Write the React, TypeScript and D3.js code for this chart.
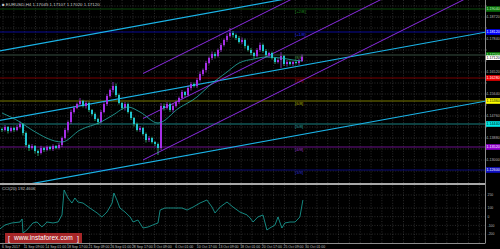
import React from "react";
import * as d3 from "d3";

// ---- data ----
const firstOpen = 1.1424;
const closes = [
  1.1420, 1.1432, 1.1416, 1.1428, 1.1420, 1.1432, 1.1444, 1.1408, 1.1360, 1.1348,
  1.1356, 1.1336, 1.1328, 1.1348, 1.1340, 1.1352, 1.1344, 1.1356, 1.1348, 1.1360,
  1.1388, 1.1420, 1.1452, 1.1492, 1.1508, 1.1524, 1.1536, 1.1516, 1.1528, 1.1500,
  1.1484, 1.1464, 1.1452, 1.1492, 1.1524, 1.1556, 1.1580, 1.1596, 1.1560, 1.1528,
  1.1508, 1.1524, 1.1492, 1.1468, 1.1444, 1.1420, 1.1428, 1.1404, 1.1380, 1.1388,
  1.1372, 1.1364, 1.1348, 1.1516, 1.1508, 1.1524, 1.1500, 1.1516, 1.1532, 1.1548,
  1.1572, 1.1560, 1.1588, 1.1604, 1.1596, 1.1620, 1.1644, 1.1660, 1.1688, 1.1708,
  1.1724, 1.1716, 1.1740, 1.1760, 1.1780, 1.1796, 1.1808, 1.1800, 1.1788, 1.1772,
  1.1780, 1.1756, 1.1740, 1.1728, 1.1716, 1.1740, 1.1760, 1.1736, 1.1720, 1.1728,
  1.1708, 1.1692, 1.1700, 1.1716, 1.1684, 1.1692, 1.1684, 1.1692, 1.1688, 1.1696,
  1.1712,
];
// wick lengths in pips
const wickUp = [
  6, 8, 4, 6, 5, 8, 10, 4, 6, 5, 8, 4, 6, 9, 4, 6, 5, 7, 4, 8,
  6, 8, 6, 10, 8, 6, 12, 5, 8, 6, 4, 6, 5, 8, 10, 8, 6, 16, 10, 6,
  4, 8, 6, 5, 4, 6, 8, 4, 6, 8, 5, 4, 6, 12, 10, 8, 6, 10, 5, 6,
  8, 4, 10, 8, 6, 8, 10, 6, 8, 6, 10, 8, 6, 8, 6, 10, 20, 8, 6, 8,
  10, 6, 5, 8, 4, 8, 10, 6, 8, 5, 6, 4, 8, 16, 4, 8, 6, 5, 6, 8, 10,
];
const wickDn = [
  8, 6, 10, 6, 8, 5, 6, 10, 8, 12, 6, 10, 12, 6, 8, 5, 6, 8, 5, 6,
  8, 6, 10, 8, 6, 5, 8, 6, 10, 8, 6, 8, 10, 6, 5, 8, 6, 10, 8, 6,
  8, 10, 6, 8, 10, 6, 8, 6, 10, 8, 6, 8, 28, 8, 10, 6, 8, 10, 6, 8,
  6, 8, 6, 10, 6, 8, 6, 8, 10, 6, 8, 10, 6, 8, 6, 8, 6, 10, 8, 6,
  8, 10, 6, 8, 10, 6, 8, 6, 8, 10, 6, 8, 6, 32, 8, 10, 6, 8, 6, 8, 4,
];
const maIdx = [0, 6, 10, 20, 26, 33, 37, 42, 46, 52, 59, 65, 69, 75, 79, 84, 88, 93, 97, 100];
const maVal = [1.1488, 1.1452, 1.1420, 1.1372, 1.1420, 1.1452, 1.1480, 1.1512, 1.1492, 1.1448,
  1.1508, 1.1552, 1.1596, 1.1652, 1.1688, 1.1704, 1.1712, 1.1708, 1.1700, 1.1696];

const murrayLevels = [1.1904, 1.1812, 1.1720, 1.1628, 1.1536, 1.1444, 1.1352, 1.1260];
const murrayNames = ["[+2/8]", "[+1/8]", "[8/8]", "[7/8]", "[6/8]", "[5/8]", "[4/8]", "[3/8]"];
const priceTicks = [1.1916, 1.1872, 1.1828, 1.1784, 1.1740, 1.1696, 1.1652, 1.1608, 1.1564,
  1.1520, 1.1476, 1.1432, 1.1388, 1.1344, 1.1300, 1.1256];
const lastPrice = 1.1712;

// trend channels: anchor bar index / price pairs
const cyanStart = [0, 0, 0];
const cyanP1 = [1.1738, 1.1460, 1.1184];
const cyanP2 = [1.1956, 1.1678, 1.1402];
const cyanI2 = 100;
const purpleStart = 47;
const purpleP1 = [1.1646, 1.1466, 1.1300];
const purpleP2 = [1.1964, 1.1784, 1.1618];
const purpleI2 = 100;

const timeLabels = ["6 Sep 2017", "11 Sep 09:00", "14 Sep 01:00", "18 Sep 17:00", "21 Sep 09:00",
  "26 Sep 01:00", "28 Sep 17:00", "3 Oct 09:00", "6 Oct 01:00", "10 Oct 17:00", "13 Oct 09:00",
  "18 Oct 01:00", "20 Oct 17:00", "25 Oct 09:00", "30 Oct 01:00"];

const oscIdx = [-0.7, 1, 3.3, 6, 6.7, 7, 8.3, 10.3, 11.7, 13.3, 15, 17, 18.7, 20, 20.7, 22, 23.3, 24.3,
  25.3, 27, 29.3, 31.7, 33.3, 35, 36.7, 37.3, 38.3, 39.3, 41, 42.7, 43.7, 45.3, 47, 48.7, 50.3, 52,
  52.7, 54.3, 57, 60, 61.7, 63.7, 66, 68.3, 70, 71, 72.7, 75, 77, 79.3, 81.7, 82.7, 83.7, 85.3, 87,
  88.3, 89.3, 91, 92, 93.3, 94.3, 96, 97.7, 99.3, 100.3];
const oscVal = [-141, -95, -72, -61, -26, -187, -153, -72, -61, -118, -61, -72, -61, 20, 307, 215, 157,
  215, 169, 157, 100, 43, -3, 54, 157, 272, 192, 100, 54, -3, -61, -38, -130, -118, -95, -72, 77, 100,
  100, 100, 77, 111, 157, 192, 111, 43, 111, 169, 111, 54, 20, -15, -61, -3, 20, -153, -130, -95, -3,
  -130, -72, -61, -61, -3, 192];
const oscTicks = [250, 100, 0, -100, -200];

// ---- styles ----
const murrayLineColors = ["#0c4a0c", "#0a0a96", "#25352b", "#780000", "#7a7a00", "#1a8080", "#6a108a", "#0a0a78"];
const murrayTextColors = ["#1f8f1f", "#2a2aff", "#4a9a4a", "#c01010", "#b0b000", "#2aa0a0", "#9a30c0", "#2a2ad0"];
const murrayBoxColors = ["#0b6e0b", "#0000ff", "#0b7a0b", "#f00000", "#ffff00", "#00e8e8", "#9400d3", "#1010c8"];
const murrayBoxText = ["#c0ffc0", "#ffffff", "#c0ffc0", "#ffffff", "#000000", "#000000", "#ffffff", "#ffffff"];
const FONT = "Liberation Sans, Arial, sans-serif";

export default function App() {
  const W = 500, H = 249, R = 485, mainB = 183, subT = 185, subB = 243;
  const x = d3.scaleLinear().domain([0, 100]).range([2, 302]);
  const y = d3.scaleLinear().domain([1.1212, 1.194]).range([182, 0]);
  const yo = d3.scaleLinear().domain([-100, 100]).range([225.4, 208]);
  const tx = d3.scaleLinear().domain([0, 1]).range([3, 24.65]);
  const pip = 0.0001;

  const candles = closes.map((c, i) => {
    const o = i === 0 ? firstOpen : closes[i - 1];
    const hi = Math.max(o, c) + (wickUp[i] ?? 5) * pip;
    const lo = Math.min(o, c) - (wickDn[i] ?? 5) * pip;
    return { i, o, c, hi, lo };
  });

  const gridX: number[] = [];
  for (let k = 0; tx(k / 2) < R; k++) gridX.push(tx(k / 2));

  const maLine = d3.line<number>()
    .x((_, k) => x(maIdx[k]))
    .y((d) => y(d))
    .curve(d3.curveMonotoneX)(maVal) || "";

  const oscLine = d3.line<number>()
    .x((_, k) => x(oscIdx[k]))
    .y((d) => yo(d))(oscVal) || "";

  const ray = (i1: number, p1: number, i2: number, p2: number, from: number, extendLeft: boolean) => {
    const slope = (p2 - p1) / (i2 - i1);
    const a = extendLeft ? -10 : from;
    const b = 170;
    return { x1: x(a), y1: y(p1 + slope * (a - i1)), x2: x(b), y2: y(p1 + slope * (b - i1)) };
  };

  const fmt = (v: number) => v.toFixed(5);
  const boxYs = [...murrayLevels, lastPrice].map((p) => y(p));
  const visibleTicks = priceTicks.filter((p) => boxYs.every((by) => Math.abs(by - y(p)) > 5.5));
  const AX = 3.4;
  const LW = 13.2;

  return (
    <svg width={W} height={H} style={{ position: "absolute", left: 0, top: 0, background: "#000", display: "block" }}
      fontFamily={FONT}>
      <defs>
        <clipPath id="mainClip"><rect x={0} y={0} width={R} height={mainB} /></clipPath>
        <clipPath id="subClip"><rect x={0} y={subT + 1} width={R} height={subB - subT - 1} /></clipPath>
      </defs>
      <rect x={0} y={0} width={W} height={H} fill="#000" />

      {/* grid */}
      <g stroke="#4a4a4a" strokeWidth={0.6} strokeDasharray="1,1.6">
        {gridX.map((gx, k) => (
          <line key={"gv" + k} x1={gx} x2={gx} y1={0} y2={subB} />
        ))}
        {priceTicks.map((p, k) => (
          <line key={"gh" + k} x1={0} x2={R} y1={y(p)} y2={y(p)} />
        ))}
        {oscTicks.map((v, k) => (
          <line key={"go" + k} x1={0} x2={R} y1={yo(v)} y2={yo(v)} />
        ))}
      </g>

      {/* murray levels */}
      <g>
        {murrayLevels.map((p, k) => (
          <line key={"ml" + k} x1={0} x2={R} y1={y(p)} y2={y(p)} stroke={murrayLineColors[k]} strokeWidth={k === 2 ? 1.6 : 1} />
        ))}
        {murrayLevels.map((p, k) => (
          <text key={"mt" + k} x={295} y={y(p) + 4} fontSize={4.2} fill={murrayTextColors[k]}>{murrayNames[k]}</text>
        ))}
      </g>

      {/* channels */}
      <g clipPath="url(#mainClip)">
        {cyanP1.map((p1, k) => {
          const r = ray(cyanStart[k], p1, cyanI2, cyanP2[k], 0, true);
          return <line key={"cy" + k} {...r} stroke="#1ab4e8" strokeWidth={1.2} />;
        })}
        {purpleP1.map((p1, k) => {
          const r = ray(purpleStart, p1, purpleI2, purpleP2[k], purpleStart, false);
          return <line key={"pu" + k} {...r} stroke="#8a2be2" strokeWidth={1} />;
        })}
      </g>

      {/* candles */}
      <g clipPath="url(#mainClip)">
        {candles.map((d) => {
          const up = d.c >= d.o;
          const cx = x(d.i);
          const top = y(Math.max(d.o, d.c));
          const bot = y(Math.min(d.o, d.c));
          return (
            <g key={"c" + d.i}>
              <line x1={cx} x2={cx} y1={y(d.hi)} y2={y(d.lo)} stroke={up ? "#b040f0" : "#3ee08a"} strokeWidth={0.7} />
              <rect x={cx - 1} y={top} width={2} height={Math.max(0.7, bot - top)} fill={up ? "#a52ee6" : "#22c4d0"} />
            </g>
          );
        })}
        <path d={maLine} fill="none" stroke="#26b0a8" strokeWidth={0.8} />
      </g>

      {/* separator */}
      <rect x={0} y={mainB} width={R} height={2} fill="#a8a8a8" />

      {/* oscillator */}
      <g clipPath="url(#subClip)">
        <path d={oscLine} fill="none" stroke="#1aa8a0" strokeWidth={0.8} />
      </g>
      <text x={2} y={subT + 4.5} fontSize={4.2} fill="#c8c8c8">CCI(20) 192.4606</text>

      {/* axes frame */}
      <line x1={R + 0.5} x2={R + 0.5} y1={0} y2={subB} stroke="#8c8c8c" strokeWidth={1} />
      <line x1={0} x2={R + 0.5} y1={subB + 0.5} y2={subB + 0.5} stroke="#8c8c8c" strokeWidth={1} />

      {/* price axis labels */}
      <g fontSize={AX} fill="#b8b8b8">
        {priceTicks.map((p, k) => (
          <line key={"ptl" + k} x1={R} x2={R + 2} y1={y(p)} y2={y(p)} stroke="#8c8c8c" strokeWidth={0.6} />
        ))}
        {visibleTicks.map((p, k) => (
          <text key={"pt" + k} x={R + 1.5} y={y(p) + 1.2} textLength={LW} lengthAdjust="spacingAndGlyphs">{fmt(p)}</text>
        ))}
        {oscTicks.map((v, k) => (
          <text key={"ot" + k} x={R + 2.5} y={yo(v) + 1.2}>{String(v)}</text>
        ))}
      </g>
      {murrayLevels.map((p, k) => (
        <g key={"mb" + k}>
          <rect x={R + 1} y={y(p) - 2.8} width={W - R - 1} height={5.6} fill={murrayBoxColors[k]} />
          <text x={R + 1.5} y={y(p) + 1.3} fontSize={AX} fill={murrayBoxText[k]} textLength={LW} lengthAdjust="spacingAndGlyphs">{fmt(p)}</text>
        </g>
      ))}
      <rect x={R + 1} y={y(lastPrice) - 1.6} width={W - R - 1} height={4.6} fill="#ffffff" />
      <text x={R + 1.5} y={y(lastPrice) + 2.2} fontSize={AX} fill="#000" textLength={LW} lengthAdjust="spacingAndGlyphs">{fmt(lastPrice)}</text>

      {/* title */}
      <text x={2} y={6} fontSize={4.4} fill="#c8c8c8">■ EURUSD,H4  1.17045 1.17107 1.17020 1.17120</text>

      {/* watermark */}
      <rect x={5} y={233} width={77} height={10} fill="#b8292b" opacity={0.9} />
      <text x={8} y={240.6} fontSize={7} fill="#ffffff">[</text>
      <text x={14} y={240.4} fontSize={6.6} fill="#ffffff">www.instaforex.com</text>
      <text x={77} y={240.6} fontSize={7} fill="#ffffff">]</text>

      {/* time axis */}
      <g fontSize={3.5} fill="#c0c0c0">
        {timeLabels.map((t, k) => (
          <g key={"tl" + k}>
            <line x1={tx(k)} x2={tx(k)} y1={subB} y2={subB + 2} stroke="#8c8c8c" strokeWidth={0.6} />
            <text x={tx(k) - 1} y={248}>{t}</text>
          </g>
        ))}
      </g>
    </svg>
  );
}
